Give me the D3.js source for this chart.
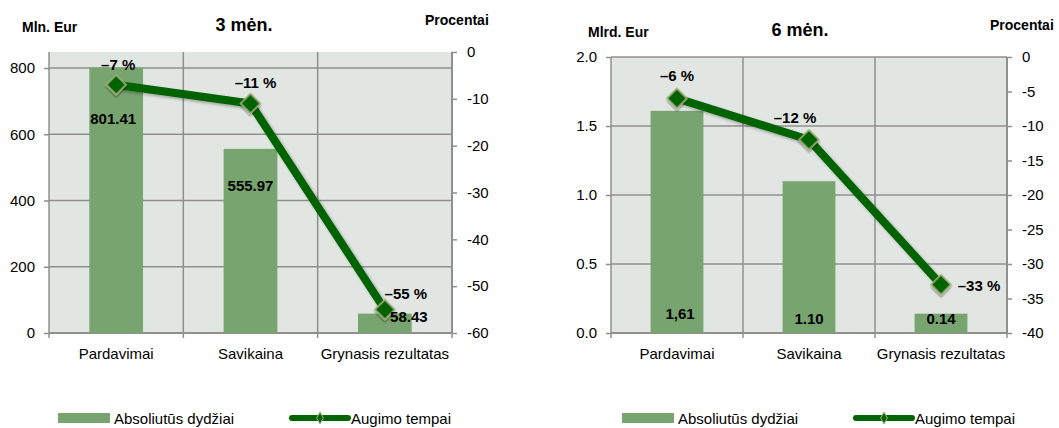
<!DOCTYPE html>
<html>
<head>
<meta charset="utf-8">
<script src="https://cdn.jsdelivr.net/npm/d3@7"></script>
<style>
  body { margin: 0; background: #fff; }
  svg text { font-family: "Liberation Sans Narrow", "Arial Narrow", "Liberation Sans", sans-serif; fill: #000; }
</style>
</head>
<body>
<div id="chart"></div>
<script>
var categories = ["Pardavimai", "Savikaina", "Grynasis rezultatas"];

// 3 mėn.
var values3 = [801.41, 555.97, 58.43];
var valueLabels3 = ["801.41", "555.97", "58.43"];
var growth3 = [-7, -11, -55];
var growthLabels3 = ["\u20137 %", "\u201311 %", "\u201355 %"];
var leftTicks3 = [0, 200, 400, 600, 800];
var rightTicks3 = [0, -10, -20, -30, -40, -50, -60];

// 6 mėn.
var values6 = [1.61, 1.10, 0.14];
var valueLabels6 = ["1,61", "1.10", "0.14"];
var growth6 = [-6, -12, -33];
var growthLabels6 = ["\u20136 %", "\u201312 %", "\u201333 %"];
var leftTicks6 = [0, 0.5, 1.0, 1.5, 2.0];
var rightTicks6 = [0, -5, -10, -15, -20, -25, -30, -35, -40];

var barColor = "#78a46f", lineColor = "#006400", markerStroke = "#a6b37d";
var gridColor = "#8f8f8f", plotBg = "#e2e6e3";

var svg = d3.select("#chart").append("svg")
    .attr("width", 1059)
    .attr("height", 428);

var defs = svg.append("defs");
var f = defs.append("filter").attr("id", "shadow").attr("x", "-20%").attr("y", "-20%").attr("width", "140%").attr("height", "140%");
f.append("feDropShadow").attr("dx", 2).attr("dy", 2).attr("stdDeviation", 1.5).attr("flood-color", "#000").attr("flood-opacity", 0.3);

function drawChart(c) {
  var g = svg.append("g");
  var x = d3.scaleBand().domain(categories).range([c.x0, c.x1]).paddingInner(0.6).paddingOuter(0.3);
  var yL = d3.scaleLinear().domain(c.leftDomain).range([c.bottom, c.leftTopY]);
  var yR = d3.scaleLinear().domain([c.rightMin, 0]).range([c.bottom, c.top]);
  var step = (c.x1 - c.x0) / categories.length;
  var cx = function(d) { return x(d) + x.bandwidth() / 2; };

  g.append("rect")
    .attr("x", c.x0).attr("y", c.top)
    .attr("width", c.x1 - c.x0).attr("height", c.bottom - c.top)
    .attr("fill", plotBg);

  // horizontal grid
  g.selectAll(".hgrid").data(c.leftTicks.filter(function(d) { return d !== 0; }))
    .enter().append("line")
    .attr("x1", c.x0).attr("x2", c.x1)
    .attr("y1", function(d) { return yL(d); }).attr("y2", function(d) { return yL(d); })
    .attr("stroke", gridColor).attr("stroke-width", 1.5);

  // vertical grid at category boundaries
  g.selectAll(".vgrid").data(d3.range(categories.length + 1))
    .enter().append("line")
    .attr("x1", function(i) { return c.x0 + i * step; }).attr("x2", function(i) { return c.x0 + i * step; })
    .attr("y1", c.top).attr("y2", c.bottom + 5)
    .attr("stroke", gridColor).attr("stroke-width", 1.5);

  // bottom axis line
  g.append("line").attr("x1", c.x0).attr("x2", c.x1).attr("y1", c.bottom).attr("y2", c.bottom)
    .attr("stroke", gridColor).attr("stroke-width", 2);

  // left axis
  var la = g.append("g").attr("transform", "translate(" + c.x0 + ",0)")
    .call(d3.axisLeft(yL).tickValues(c.leftTicks).tickSize(5).tickPadding(9).tickFormat(c.leftFormat));
  la.select(".domain").remove();
  la.selectAll(".tick line").attr("stroke", gridColor).attr("stroke-width", 1.5);
  la.selectAll(".tick text").style("font-size", "15px").style("font-family", null);

  // right axis
  var ra = g.append("g").attr("transform", "translate(" + c.x1 + ",0)")
    .call(d3.axisRight(yR).tickValues(c.rightTicks).tickSize(5).tickPadding(10).tickFormat(function(d) { return String(d); }));
  ra.select(".domain").attr("stroke", gridColor).attr("stroke-width", 2).attr("d", "M0," + c.top + "V" + c.bottom);
  ra.selectAll(".tick line").attr("stroke", gridColor).attr("stroke-width", 1.5);
  ra.selectAll(".tick text").style("font-size", "15px").style("font-family", null);

  // bars
  g.selectAll(".bar").data(c.values)
    .enter().append("rect")
    .attr("x", function(d, i) { return x(categories[i]); })
    .attr("y", function(d) { return yL(d); })
    .attr("width", x.bandwidth())
    .attr("height", function(d) { return c.bottom - yL(d); })
    .attr("fill", barColor);

  // category labels
  g.selectAll(".cat").data(categories)
    .enter().append("text")
    .attr("x", function(d) { return cx(d); })
    .attr("y", c.bottom + 26)
    .attr("text-anchor", "middle")
    .style("font-size", "15px")
    .text(function(d) { return d; });

  // growth line
  var line = d3.line()
    .x(function(d, i) { return cx(categories[i]); })
    .y(function(d) { return yR(d); });
  g.append("path").datum(c.growth)
    .attr("d", line)
    .attr("fill", "none")
    .attr("stroke", lineColor)
    .attr("stroke-width", 8)
    .attr("stroke-linejoin", "round")
    .attr("filter", "url(#shadow)");

  g.selectAll(".marker").data(c.growth)
    .enter().append("path")
    .attr("d", d3.symbol().type(d3.symbolSquare).size(200))
    .attr("transform", function(d, i) { return "translate(" + cx(categories[i]) + "," + yR(d) + ") rotate(45)"; })
    .attr("fill", lineColor)
    .attr("stroke", markerStroke)
    .attr("stroke-width", 1.5)
    .attr("filter", "url(#shadow)");

  // value labels
  g.selectAll(".vlab").data(c.valueLabels)
    .enter().append("text")
    .attr("x", function(d, i) { return cx(categories[i]) + c.valueDx[i]; })
    .attr("y", function(d, i) { return c.valueY[i]; })
    .attr("text-anchor", "middle")
    .attr("dominant-baseline", "central")
    .style("font-size", "15px").style("font-weight", "bold")
    .text(function(d) { return d; });

  g.selectAll(".glab").data(c.growthLabels)
    .enter().append("text")
    .attr("x", function(d, i) { return cx(categories[i]) + c.growthDx[i]; })
    .attr("y", function(d, i) { return yR(c.growth[i]) + c.growthDy[i]; })
    .attr("text-anchor", "middle")
    .attr("dominant-baseline", "central")
    .style("font-size", "15px").style("font-weight", "bold")
    .text(function(d) { return d; });

  // titles
  g.append("text").attr("x", c.unitX).attr("y", c.titleY + 2).attr("dominant-baseline", "central")
    .style("font-size", "14px").style("font-weight", "bold").text(c.unit);
  g.append("text").attr("x", c.titleX).attr("y", c.titleY).attr("text-anchor", "middle").attr("dominant-baseline", "central")
    .style("font-size", "18px").style("font-weight", "bold").text(c.title);
  g.append("text").attr("x", c.procX).attr("y", c.titleY - 5).attr("dominant-baseline", "central")
    .style("font-size", "14px").style("font-weight", "bold").text("Procentai");

  // legend
  var ly = 418;
  g.append("rect").attr("x", c.legX).attr("y", ly - 5).attr("width", 52).attr("height", 10).attr("fill", barColor);
  g.append("text").attr("x", c.legX + 56).attr("y", ly).attr("dominant-baseline", "central")
    .style("font-size", "15px").text("Absoliutūs dydžiai");
  var lx = c.legX + 234;
  g.append("line").attr("x1", lx).attr("x2", lx + 56).attr("y1", ly).attr("y2", ly)
    .attr("stroke", lineColor).attr("stroke-width", 6).attr("stroke-linecap", "round");
  g.append("path").attr("d", d3.symbol().type(d3.symbolDiamond).size(40))
    .attr("transform", "translate(" + (lx + 28) + "," + ly + ")")
    .attr("fill", lineColor).attr("stroke", markerStroke).attr("stroke-width", 1);
  g.append("text").attr("x", lx + 59).attr("y", ly).attr("dominant-baseline", "central")
    .style("font-size", "15px").text("Augimo tempai");
}

drawChart({
  x0: 49, x1: 452, top: 52, bottom: 333, leftTopY: 68,
  leftDomain: [0, 800], leftTicks: leftTicks3, leftFormat: d3.format("d"),
  rightMin: -60, rightTicks: rightTicks3,
  values: values3, valueLabels: valueLabels3, growth: growth3, growthLabels: growthLabels3,
  valueY: [118, 185, 316], valueDx: [-3, 0, 24],
  growthDx: [2, 5, 21], growthDy: [-20, -21, -16],
  unit: "Mln. Eur", unitX: 22, title: "3 mėn.", titleX: 244, titleY: 25, procX: 425,
  legX: 58
});

drawChart({
  x0: 611, x1: 1007, top: 57, bottom: 333, leftTopY: 57,
  leftDomain: [0, 2], leftTicks: leftTicks6, leftFormat: d3.format(".1f"),
  rightMin: -40, rightTicks: rightTicks6,
  values: values6, valueLabels: valueLabels6, growth: growth6, growthLabels: growthLabels6,
  valueY: [313, 318, 318], valueDx: [3, 0, 0],
  growthDx: [0, -14, 38], growthDy: [-23, -22, 1],
  unit: "Mlrd. Eur", unitX: 588, title: "6 mėn.", titleX: 800, titleY: 30, procX: 990,
  legX: 622
});
</script>
</body>
</html>
